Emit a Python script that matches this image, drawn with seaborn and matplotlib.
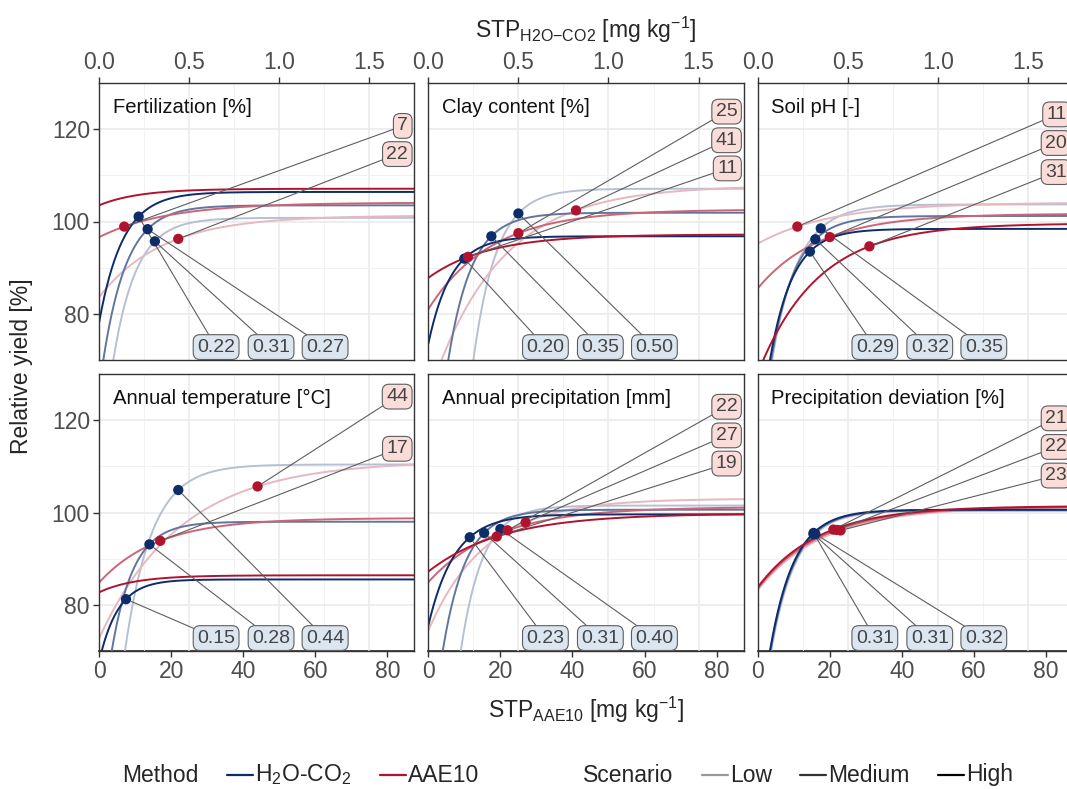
import numpy as np
import pandas as pd
import matplotlib
matplotlib.use("Agg")
import matplotlib.pyplot as plt
from matplotlib.colors import to_rgb
from matplotlib.lines import Line2D
from matplotlib.ticker import MultipleLocator, FixedLocator, FormatStrFormatter
import seaborn as sns

FACTOR = 50  # STP AAE10 = 50 * STP H2O-CO2 (bottom vs top axis)

panel_titles = ["Fertilization [%]", "Clay content [%]", "Soil pH [-]",
                "Annual temperature [°C]", "Annual precipitation [mm]",
                "Precipitation deviation [%]"]
scenarios = ["Low", "Medium", "High"]

# Fitted response curves y = asym - (asym - y0) * exp(-rate * x), per panel [Low, Medium, High]
# H2O-CO2 (x in mg/kg H2O-CO2)
h2o_asym = [[100.8, 103.5, 106.4], [107.1, 101.9, 96.8], [103.7, 101.2, 98.4],
            [110.4, 98.0, 85.5], [101.5, 100.6, 99.6], [100.4, 100.5, 100.6]]
h2o_y0 = [[43.6, 63.3, 78.0], [-150.0, 27.2, 73.5], [45.0, 46.8, 49.8],
          [4.0, 47.6, 67.6], [-38.9, 43.2, 75.5], [48.0, 49.0, 49.8]]
h2o_rate = [[7.8, 7.6, 7.6], [7.74, 7.67, 7.85], [6.93, 7.43, 7.9],
            [6.72, 8.32, 9.54], [8.3, 7.85, 6.87], [7.3, 7.4, 7.46]]
h2o_crit = [[0.31, 0.27, 0.22], [0.50, 0.35, 0.20], [0.35, 0.32, 0.29],
            [0.44, 0.28, 0.15], [0.40, 0.31, 0.23], [0.32, 0.31, 0.31]]

# AAE10 (x in mg/kg AAE10)
aae_asym = [[101.3, 104.1, 107.1], [107.8, 102.6, 97.2], [104.1, 101.7, 99.6],
            [111.2, 98.8, 86.4], [103.0, 101.2, 99.8], [101.2, 101.3, 101.4]]
aae_y0 = [[83.6, 96.6, 103.5], [62.0, 81.0, 87.8], [95.2, 85.5, 67.1],
          [72.7, 84.8, 82.7], [74.4, 84.9, 87.2], [83.2, 83.5, 83.8]]
aae_rate = [[0.0569, 0.0522, 0.09], [0.0522, 0.0575, 0.060], [0.0488, 0.058, 0.0605],
            [0.044, 0.0613, 0.10], [0.0635, 0.0532, 0.0487], [0.055, 0.057, 0.059]]
aae_crit = [[22, 7, None], [41, 25, 11], [11, 20, 31],
            [44, 17, None], [27, 22, 19], [23, 22, 21]]

# label layout (scenario index per slot)
blue_order = [[2, 0, 1], [2, 1, 0], [2, 1, 0], [2, 1, 0], [2, 1, 0], [2, 1, 0]]
red_order = [[1, 0], [1, 0, 2], [0, 1, 2], [0, 1], [1, 0, 2], [2, 1, 0]]
red_label_y = [[120.7, 114.6], [123.8, 117.6, 111.5], [123.2, 117.0, 110.7],
               [125.1, 113.8], [122.9, 116.7, 110.6], [120.4, 114.2, 108.0]]
blue_label_x = [0.65, 0.955, 1.255]
blue_label_y = 72.8
red_label_x = 1.716

BLUE = "#0C2C6A"
RED = "#B0132E"
method_colors = {"H2O-CO2": BLUE, "AAE10": RED}
scen_alpha = {"Low": 0.3, "Medium": 0.65, "High": 1.0}
legend_alpha = {"Low": 0.4, "Medium": 0.8, "High": 1.0}

W, H = 1067, 789
FONT = "Liberation Sans"


def response(x, asym, y0, rate):
    return asym - (asym - y0) * np.exp(-rate * x)


def tint(color, alpha):
    rgb = np.array(to_rgb(color))
    return tuple(1 - alpha * (1 - rgb))


def build_curves():
    x_h2o = np.linspace(0, 1.75, 500)
    x_aae = np.linspace(0, 87.5, 500)
    frames = []
    for p in range(6):
        for s, scen in enumerate(scenarios):
            y = response(x_h2o, h2o_asym[p][s], h2o_y0[p][s], h2o_rate[p][s])
            frames.append(pd.DataFrame({"panel": p, "method": "H2O-CO2", "scenario": scen,
                                        "x": x_h2o, "y": y}))
            y = response(x_aae, aae_asym[p][s], aae_y0[p][s], aae_rate[p][s])
            frames.append(pd.DataFrame({"panel": p, "method": "AAE10", "scenario": scen,
                                        "x": x_aae / FACTOR, "y": y}))
    df = pd.concat(frames, ignore_index=True)
    df["key"] = df["method"] + "|" + df["scenario"]
    return df


def build_points():
    rows = []
    for p in range(6):
        for s, scen in enumerate(scenarios):
            c = h2o_crit[p][s]
            rows.append({"panel": p, "method": "H2O-CO2", "scenario": s, "x": c,
                         "y": response(c, h2o_asym[p][s], h2o_y0[p][s], h2o_rate[p][s]),
                         "label": f"{c:.2f}"})
            c = aae_crit[p][s]
            if c is not None:
                rows.append({"panel": p, "method": "AAE10", "scenario": s, "x": c / FACTOR,
                             "y": response(c, aae_asym[p][s], aae_y0[p][s], aae_rate[p][s]),
                             "label": f"{c:d}"})
    return pd.DataFrame(rows)


def style_axis(ax, row, col):
    ax.set_xlim(0, 1.75)
    ax.set_ylim(70, 130)
    ax.xaxis.set_major_locator(FixedLocator([0, 0.5, 1.0, 1.5]))
    ax.xaxis.set_minor_locator(FixedLocator([0.25, 0.75, 1.25]))
    ax.xaxis.set_major_formatter(FormatStrFormatter("%.1f"))
    ax.yaxis.set_major_locator(MultipleLocator(20))
    ax.yaxis.set_minor_locator(MultipleLocator(10))
    ax.grid(which="major", color="#EBEBEB", lw=1.2)
    ax.grid(which="minor", color="#F2F2F2", lw=0.7)
    ax.set_axisbelow(True)
    for sp in ax.spines.values():
        sp.set_color("#333333")
        sp.set_linewidth(1.0)
    ax.tick_params(which="minor", length=0)
    ax.tick_params(which="major", length=4.5, width=1, color="#333333",
                   labelcolor="#4D4D4D", labelsize=16.5, pad=2)
    if row == 0:
        ax.tick_params(axis="x", which="major", top=True, labeltop=True,
                       bottom=False, labelbottom=False)
    else:
        ax.tick_params(axis="x", which="both", top=False, labeltop=False,
                       bottom=False, labelbottom=False)
        sec = ax.secondary_xaxis("bottom", functions=(lambda v: v * FACTOR, lambda v: v / FACTOR))
        sec.set_xticks([0, 20, 40, 60, 80])
        sec.tick_params(length=4.5, width=1, color="#333333", labelcolor="#4D4D4D",
                        labelsize=16.5, pad=2)
        sec.spines["bottom"].set_color("#333333")
    if col == 0:
        ax.tick_params(axis="y", which="major", left=True, labelleft=True)
    else:
        ax.tick_params(axis="y", which="major", left=False, labelleft=False)
    ax.set_xlabel("")
    ax.set_ylabel("")


def draw_labels(ax, p, pts):
    sub = pts[pts["panel"] == p]
    line_kw = dict(arrowstyle="-", color="#5E5E5E", lw=0.8, shrinkA=0, shrinkB=4)
    box_kw = dict(boxstyle="round,pad=0.2,rounding_size=0.35", ec="#5E5E5E", lw=0.8)
    blue = sub[sub["method"] == "H2O-CO2"].set_index("scenario")
    for slot, s in enumerate(blue_order[p]):
        r = blue.loc[s]
        ax.annotate(r["label"], xy=(r["x"], r["y"]), xytext=(blue_label_x[slot], blue_label_y),
                    ha="center", va="center", fontsize=14, color="#444444",
                    bbox=dict(fc="#DCE6F1", **box_kw),
                    arrowprops=line_kw, annotation_clip=False, zorder=4)
    red = sub[sub["method"] == "AAE10"].set_index("scenario")
    for slot, s in enumerate(red_order[p]):
        r = red.loc[s]
        ax.annotate(r["label"], xy=(r["x"], r["y"]), xytext=(red_label_x, red_label_y[p][slot]),
                    ha="right", va="center", fontsize=14, color="#444444",
                    bbox=dict(fc="#FADCD9", **box_kw),
                    arrowprops=line_kw, annotation_clip=False, zorder=4)


def draw_legend(fig):
    renderer = fig.canvas.get_renderer()
    y = 1 - 775 / H
    groups = [
        (122, "Method", [("H$_2$O-CO$_2$", BLUE), ("AAE10", RED)]),
        (583, "Scenario", [(sc, tint("#000000", legend_alpha[sc])) for sc in scenarios]),
    ]
    for x, title, entries in groups:
        t = fig.text(x / W, y, title, fontsize=16.5, ha="left", va="center")
        x += t.get_window_extent(renderer).width + 29
        for label, color in entries:
            fig.add_artist(Line2D([x / W, (x + 26) / W], [y, y], color=color, lw=1.6,
                                  transform=fig.transFigure))
            x += 28
            t = fig.text(x / W, y, label, fontsize=16.5, ha="left", va="center")
            x += t.get_window_extent(renderer).width + 28


def main():
    sns.set_theme(style="white")
    plt.rcParams["font.family"] = [FONT, "DejaVu Sans"]
    plt.rcParams["mathtext.fontset"] = "custom"
    plt.rcParams["mathtext.rm"] = FONT
    plt.rcParams["mathtext.it"] = FONT + ":italic"
    plt.rcParams["mathtext.bf"] = FONT + ":bold"

    curves = build_curves()
    pts = build_points()

    palette = {}
    hue_order = []
    for scen in scenarios:
        for m in ["H2O-CO2", "AAE10"]:
            key = f"{m}|{scen}"
            palette[key] = tint(method_colors[m], scen_alpha[scen])
            hue_order.append(key)

    fig = plt.figure(figsize=(W / 100, H / 100), dpi=100)
    col_left = [99, 428.3, 757.7]
    row_top = [83, 374]
    pw, ph = 315.3, 277

    for p in range(6):
        row, col = divmod(p, 3)
        ax = fig.add_axes([col_left[col] / W, 1 - (row_top[row] + ph) / H, pw / W, ph / H])
        sns.lineplot(data=curves[curves["panel"] == p], x="x", y="y", hue="key",
                     hue_order=hue_order, palette=palette, estimator=None, sort=False,
                     lw=1.4, legend=False, ax=ax)
        sns.scatterplot(data=pts[pts["panel"] == p], x="x", y="y", hue="method",
                        palette=method_colors, s=55, linewidth=0, legend=False,
                        zorder=5, ax=ax)
        style_axis(ax, row, col)
        ax.text(0.043, 0.913, panel_titles[p], transform=ax.transAxes, fontsize=14.6,
                ha="left", va="center", color="#111111")
        draw_labels(ax, p, pts)

    fig.text(586 / W, 1 - 30 / H, r"STP$_{\mathrm{H2O{-}CO2}}$ [mg kg$^{-1}$]",
             fontsize=16.5, ha="center", va="center")
    fig.text(586 / W, 1 - 710 / H, r"STP$_{\mathrm{AAE10}}$ [mg kg$^{-1}$]",
             fontsize=16.5, ha="center", va="center")
    fig.text(22 / W, 1 - 366 / H, "Relative yield [%]", fontsize=16.5, rotation=90,
             ha="center", va="center")

    draw_legend(fig)
    fig.savefig("out.png", dpi=100)
    plt.close(fig)


if __name__ == "__main__":
    main()
